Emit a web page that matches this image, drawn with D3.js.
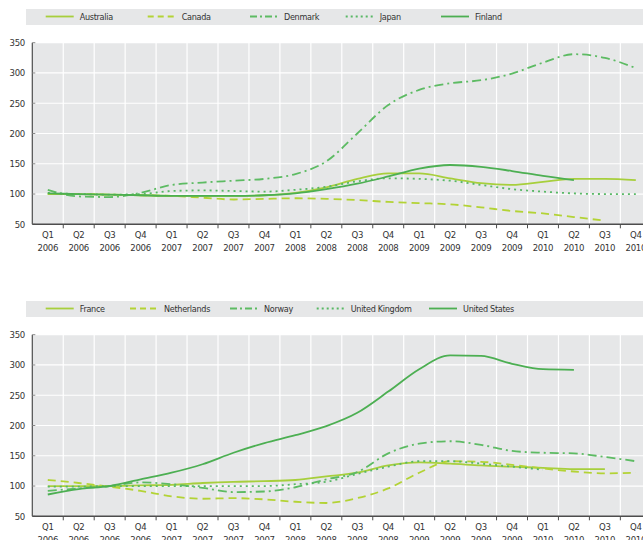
<!DOCTYPE html>
<html>
<head>
<meta charset="utf-8">
<script src="https://cdn.jsdelivr.net/npm/d3@7"></script>
<style>
  body { margin: 0; background: #fff; }
  svg text { font-family: "Liberation Sans Narrow", "Arial Narrow", "DejaVu Sans Condensed", sans-serif; font-stretch: condensed; fill: #333; letter-spacing: -0.3px; }
</style>
</head>
<body>
<div id="chart"></div>
<script>
// quarters on the x axis
var quarters = ["Q1 2006", "Q2 2006", "Q3 2006", "Q4 2006",
  "Q1 2007", "Q2 2007", "Q3 2007", "Q4 2007",
  "Q1 2008", "Q2 2008", "Q3 2008", "Q4 2008",
  "Q1 2009", "Q2 2009", "Q3 2009", "Q4 2009",
  "Q1 2010", "Q2 2010", "Q3 2010", "Q4 2010"];

var yTicks = [50, 100, 150, 200, 250, 300, 350];

// top panel
var australia = [100, 100, 99, 98, 97, 97, 97, 98, 102, 111, 125, 134, 134, 126, 118, 115, 120, 125, 125, 123];
var canada = [100, 100, 99, 98, 97, 94, 91, 92, 93, 92, 90, 87, 85, 83, 78, 72, 68, 62, 56];
var denmark = [107, 96, 95, 102, 115, 119, 122, 125, 133, 154, 200, 247, 272, 283, 288, 299, 317, 331, 325, 308];
var japan = [102, 100, 99, 100, 105, 106, 105, 104, 107, 112, 121, 126, 125, 122, 115, 108, 104, 101, 100, 100];
var finland = [101, 100, 99, 98, 97, 97, 97, 98, 101, 108, 117, 129, 142, 148, 145, 138, 130, 123];

// bottom panel
var france = [100, 100, 100, 101, 102, 105, 107, 108, 110, 116, 122, 134, 139, 137, 134, 132, 130, 128, 128];
var netherlands = [110, 105, 99, 92, 83, 79, 80, 78, 74, 72, 80, 96, 122, 141, 140, 135, 129, 124, 121, 122];
var norway = [92, 96, 100, 106, 103, 97, 90, 91, 98, 111, 123, 154, 170, 174, 168, 158, 155, 154, 148, 141];
var unitedKingdom = [99, 99, 100, 100, 100, 100, 100, 100, 103, 107, 120, 132, 141, 141, 137, 132, 127];
var unitedStates = [86, 95, 100, 111, 122, 136, 155, 171, 184, 199, 221, 256, 293, 316, 315, 302, 293, 292];

var styles = {
  solidLight: { color: "#a7cf3c", dash: null, legendDash: null },
  dashed: { color: "#b3d335", dash: "8,5", legendDash: "6,4" },
  dashDot: { color: "#5dbb63", dash: "9,4,2,4", legendDash: "7,3,2,3" },
  dotted: { color: "#58b865", dash: "2,4", legendDash: "2,3" },
  solidDark: { color: "#4caf52", dash: null, legendDash: null }
};

var panels = [
  {
    top: 0,
    legendX: [45.7, 147.7, 250, 345.7, 441],
    series: [
      { name: "Australia", values: australia, style: styles.solidLight },
      { name: "Canada", values: canada, style: styles.dashed },
      { name: "Denmark", values: denmark, style: styles.dashDot },
      { name: "Japan", values: japan, style: styles.dotted },
      { name: "Finland", values: finland, style: styles.solidDark }
    ]
  },
  {
    top: 292,
    legendX: [45.7, 130, 230, 316.7, 429],
    series: [
      { name: "France", values: france, style: styles.solidLight },
      { name: "Netherlands", values: netherlands, style: styles.dashed },
      { name: "Norway", values: norway, style: styles.dashDot },
      { name: "United Kingdom", values: unitedKingdom, style: styles.dotted },
      { name: "United States", values: unitedStates, style: styles.solidDark }
    ]
  }
];

var svgWidth = 643;
var svgHeight = 540;

var svg = d3.select("#chart")
  .append("svg")
  .attr("width", svgWidth)
  .attr("height", svgHeight);

var xLeft = 32.3;
var bandW = 30.95;

var xScale = d3.scaleBand()
  .domain(quarters)
  .range([xLeft, xLeft + bandW * quarters.length])
  .padding(0);

var yScale = d3.scaleLinear()
  .domain([50, 350])
  .range([224.3, 42.7]);

panels.forEach(function(panel) {
  var g = svg.append("g").attr("transform", "translate(0," + panel.top + ")");

  // legend bar
  g.append("rect")
    .attr("x", 26).attr("y", 9)
    .attr("width", svgWidth - 26).attr("height", 16)
    .attr("fill", "#e6e7e8");

  panel.series.forEach(function(s, i) {
    var lx = panel.legendX[i];
    g.append("line")
      .attr("x1", lx).attr("x2", lx + 28)
      .attr("y1", 16.5).attr("y2", 16.5)
      .attr("stroke", s.style.color)
      .attr("stroke-width", 1.8)
      .attr("stroke-dasharray", s.style.legendDash);
    g.append("text")
      .attr("x", lx + 34).attr("y", 16.5)
      .attr("dy", "0.35em")
      .style("font-size", "9px")
      .text(s.name);
  });

  // plot background
  g.append("rect")
    .attr("x", xLeft).attr("y", yScale(350))
    .attr("width", svgWidth - xLeft + 20).attr("height", yScale(50) - yScale(350))
    .attr("fill", "#e6e7e8");

  // horizontal grid
  g.selectAll(".hgrid")
    .data(yTicks.slice(1))
    .enter().append("line")
    .attr("x1", xLeft).attr("x2", svgWidth + 20)
    .attr("y1", d => yScale(d)).attr("y2", d => yScale(d))
    .attr("stroke", "#fff").attr("stroke-width", 1.2);

  // vertical grid at band boundaries
  g.selectAll(".vgrid")
    .data(quarters.slice(1))
    .enter().append("line")
    .attr("x1", d => xScale(d)).attr("x2", d => xScale(d))
    .attr("y1", yScale(350)).attr("y2", yScale(50))
    .attr("stroke", "#fff").attr("stroke-width", 1.2);

  // lines
  panel.series.forEach(function(s) {
    var line = d3.line()
      .x((d, i) => xScale(quarters[i]) + xScale.bandwidth() / 2)
      .y(d => yScale(d))
      .curve(d3.curveMonotoneX);
    g.append("path")
      .attr("d", line(s.values))
      .attr("fill", "none")
      .attr("stroke", s.style.color)
      .attr("stroke-width", 1.8)
      .attr("stroke-dasharray", s.style.dash);
  });

  // y axis
  g.append("line")
    .attr("x1", xLeft).attr("x2", xLeft)
    .attr("y1", yScale(350)).attr("y2", yScale(50))
    .attr("stroke", "#4d4d4d").attr("stroke-width", 1.2);

  g.selectAll(".ytick")
    .data(yTicks)
    .enter().append("line")
    .attr("x1", xLeft).attr("x2", xLeft + 3)
    .attr("y1", d => yScale(d)).attr("y2", d => yScale(d))
    .attr("stroke", "#888");

  g.selectAll(".ylabel")
    .data(yTicks)
    .enter().append("text")
    .attr("x", 25).attr("y", d => yScale(d))
    .attr("dy", "0.35em")
    .attr("text-anchor", "end")
    .style("font-size", "9.5px")
    .text(d => d);

  // x axis
  g.append("line")
    .attr("x1", xLeft).attr("x2", svgWidth + 20)
    .attr("y1", yScale(50)).attr("y2", yScale(50))
    .attr("stroke", "#4d4d4d").attr("stroke-width", 1.5);

  g.selectAll(".xtick")
    .data(quarters.slice(1))
    .enter().append("line")
    .attr("x1", d => xScale(d)).attr("x2", d => xScale(d))
    .attr("y1", yScale(50)).attr("y2", yScale(50) + 4)
    .attr("stroke", "#4d4d4d");

  var xl = g.selectAll(".xlabel")
    .data(quarters)
    .enter().append("text")
    .attr("x", d => xScale(d) + xScale.bandwidth() / 2)
    .attr("y", yScale(50) + 10)
    .attr("text-anchor", "middle")
    .style("font-size", "9.5px");
  xl.append("tspan")
    .attr("x", d => xScale(d) + xScale.bandwidth() / 2)
    .attr("dy", "0.4em")
    .text(d => d.split(" ")[0]);
  xl.append("tspan")
    .attr("x", d => xScale(d) + xScale.bandwidth() / 2)
    .attr("dy", "1.35em")
    .text(d => d.split(" ")[1]);
});
</script>
</body>
</html>
